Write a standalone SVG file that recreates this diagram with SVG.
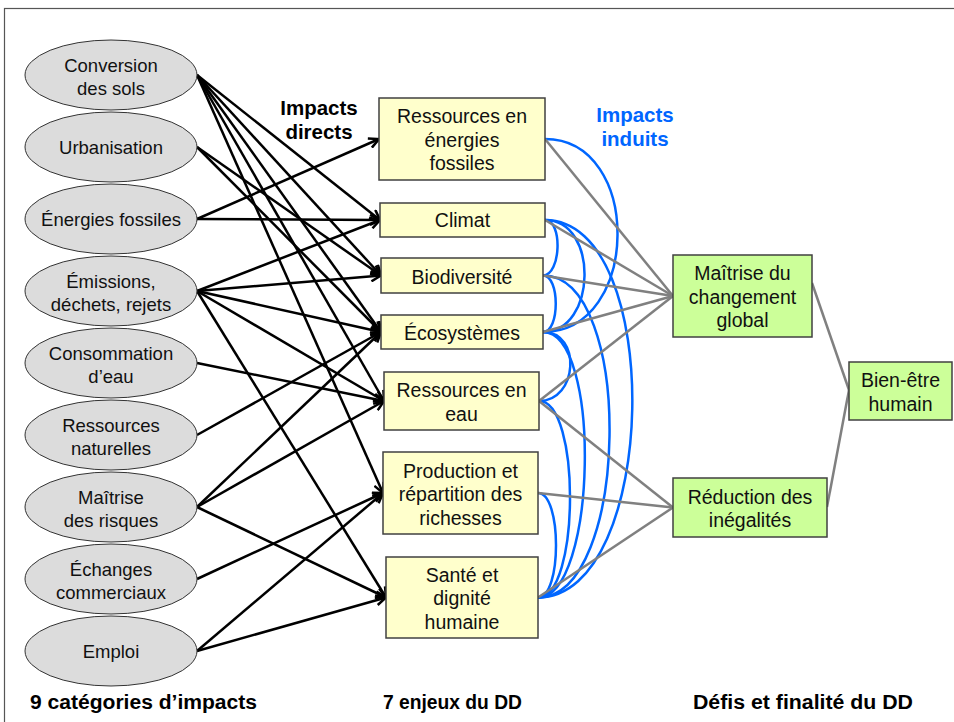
<svg xmlns="http://www.w3.org/2000/svg" width="954" height="722" viewBox="0 0 954 722">
<style>
.el{fill:#dcdcdc;stroke:#333;stroke-width:1}
.bx{fill:#ffffcc;stroke:#404040;stroke-width:1.5}
.gb{fill:#ccff99;stroke:#404040;stroke-width:1.5}
.t{font-family:"Liberation Sans",Arial,sans-serif;font-size:18.5px;fill:#111;text-anchor:middle}
.tb{font-family:"Liberation Sans",Arial,sans-serif;font-size:19.5px;fill:#111;text-anchor:middle}
.hd{font-family:"Liberation Sans",Arial,sans-serif;font-size:20.5px;font-weight:bold;text-anchor:middle}
.ft{font-family:"Liberation Sans",Arial,sans-serif;font-size:20px;font-weight:bold;fill:#000}
.ar{stroke:#000;stroke-width:2.5;fill:none;marker-end:url(#arr)}
.gr{stroke:#808080;stroke-width:2.5;fill:none}
.bl{stroke:#0066ff;stroke-width:2.5;fill:none}
</style>
<defs>
<marker id="arr" viewBox="0 0 12 12" refX="11" refY="6" markerWidth="12" markerHeight="12" orient="auto" markerUnits="userSpaceOnUse">
<path d="M1,1 L11,6 L1,11" fill="none" stroke="#000" stroke-width="2.5"/>
</marker>
</defs>
<rect x="4.5" y="8.5" width="980" height="730" fill="#fff" stroke="#555" stroke-width="1.2"/>

<g id="connectors">
<g id="impacts-directs">
<line class="ar" x1="197" y1="75" x2="380" y2="220"/>
<line class="ar" x1="197" y1="75" x2="381" y2="275.5"/>
<line class="ar" x1="197" y1="75" x2="381" y2="332"/>
<line class="ar" x1="197" y1="75" x2="384" y2="401"/>
<line class="ar" x1="197" y1="75" x2="383" y2="493"/>
<line class="ar" x1="197" y1="147" x2="381" y2="275.5"/>
<line class="ar" x1="197" y1="147" x2="381" y2="332"/>
<line class="ar" x1="197" y1="219" x2="379" y2="139"/>
<line class="ar" x1="197" y1="219" x2="380" y2="220"/>
<line class="ar" x1="197" y1="291" x2="380" y2="220"/>
<line class="ar" x1="197" y1="291" x2="381" y2="275.5"/>
<line class="ar" x1="197" y1="291" x2="381" y2="332"/>
<line class="ar" x1="197" y1="291" x2="384" y2="401"/>
<line class="ar" x1="197" y1="291" x2="386" y2="597.5"/>
<line class="ar" x1="197" y1="363" x2="384" y2="401"/>
<line class="ar" x1="197" y1="435" x2="381" y2="332"/>
<line class="ar" x1="197" y1="507" x2="381" y2="332"/>
<line class="ar" x1="197" y1="507" x2="384" y2="401"/>
<line class="ar" x1="197" y1="507" x2="386" y2="597.5"/>
<line class="ar" x1="197" y1="579" x2="383" y2="493"/>
<line class="ar" x1="197" y1="651" x2="383" y2="493"/>
<line class="ar" x1="197" y1="651" x2="386" y2="597.5"/>
</g>
<g id="impacts-induits">
<path class="bl" d="M545,139 C643,139 641,332 543,332"/>
<path class="bl" d="M545,220 C563,220 561,275.5 543,275.5"/>
<path class="bl" d="M545,220 C599,220 597,332 543,332"/>
<path class="bl" d="M545,220 C666,220 659,597.5 538,597.5"/>
<path class="bl" d="M543,275.5 C560,275.5 560,332 543,332"/>
<path class="bl" d="M543,275.5 C635,275.5 630,597.5 538,597.5"/>
<path class="bl" d="M543,332 C582,332 578,401 539,401"/>
<path class="bl" d="M543,332 C602,332 597,597.5 538,597.5"/>
<path class="bl" d="M539,401 C581,401 580,597.5 538,597.5"/>
<path class="bl" d="M538,493 C562,493 562,597.5 538,597.5"/>
</g>
<g id="finalite">
<line class="gr" x1="545" y1="139" x2="673" y2="296"/>
<line class="gr" x1="545" y1="220" x2="673" y2="296"/>
<line class="gr" x1="543" y1="275.5" x2="673" y2="296"/>
<line class="gr" x1="543" y1="332" x2="673" y2="296"/>
<line class="gr" x1="539" y1="401" x2="673" y2="296"/>
<line class="gr" x1="539" y1="401" x2="673" y2="507.5"/>
<line class="gr" x1="538" y1="493" x2="673" y2="507.5"/>
<line class="gr" x1="538" y1="597.5" x2="673" y2="507.5"/>
<line class="gr" x1="812" y1="283" x2="849" y2="390"/>
<line class="gr" x1="827" y1="507" x2="849" y2="390"/>
</g>
</g>

<g id="conversion-des-sols"><ellipse class="el" cx="111" cy="75" rx="86" ry="35"/><text class="t" x="111" y="72">Conversion</text><text class="t" x="111" y="94.5">des sols</text></g>
<g id="urbanisation"><ellipse class="el" cx="111" cy="147" rx="86" ry="35"/><text class="t" x="111" y="153.5">Urbanisation</text></g>
<g id="energies-fossiles"><ellipse class="el" cx="111" cy="219" rx="86" ry="35"/><text class="t" x="111" y="225.5">Énergies fossiles</text></g>
<g id="emissions"><ellipse class="el" cx="111" cy="291" rx="86" ry="35"/><text class="t" x="111" y="288">Émissions,</text><text class="t" x="111" y="310.5">déchets, rejets</text></g>
<g id="consommation-eau"><ellipse class="el" cx="111" cy="363" rx="86" ry="35"/><text class="t" x="111" y="360">Consommation</text><text class="t" x="111" y="382.5">d’eau</text></g>
<g id="ressources-naturelles"><ellipse class="el" cx="111" cy="435" rx="86" ry="35"/><text class="t" x="111" y="432">Ressources</text><text class="t" x="111" y="454.5">naturelles</text></g>
<g id="maitrise-risques"><ellipse class="el" cx="111" cy="507" rx="86" ry="35"/><text class="t" x="111" y="504">Maîtrise</text><text class="t" x="111" y="526.5">des risques</text></g>
<g id="echanges"><ellipse class="el" cx="111" cy="579" rx="86" ry="35"/><text class="t" x="111" y="576">Échanges</text><text class="t" x="111" y="598.5">commerciaux</text></g>
<g id="emploi"><ellipse class="el" cx="111" cy="651" rx="86" ry="35"/><text class="t" x="111" y="657.5">Emploi</text></g>

<g id="ressources-energies"><rect class="bx" x="379" y="98" width="166" height="82"/><text class="tb" x="462" y="123">Ressources en</text><text class="tb" x="462" y="146.5">énergies</text><text class="tb" x="462" y="170">fossiles</text></g>
<g id="climat"><rect class="bx" x="380" y="203" width="165" height="34"/><text class="tb" x="462.5" y="227">Climat</text></g>
<g id="biodiversite"><rect class="bx" x="381" y="258" width="162" height="35"/><text class="tb" x="462" y="283.5">Biodiversité</text></g>
<g id="ecosystemes"><rect class="bx" x="381" y="315" width="162" height="34"/><text class="tb" x="462" y="340">Écosystèmes</text></g>
<g id="ressources-eau"><rect class="bx" x="384" y="372" width="155" height="58"/><text class="tb" x="461.5" y="397">Ressources en</text><text class="tb" x="461.5" y="420.5">eau</text></g>
<g id="production"><rect class="bx" x="383" y="452" width="155" height="82"/><text class="tb" x="460.5" y="477.5">Production et</text><text class="tb" x="460.5" y="501">répartition des</text><text class="tb" x="460.5" y="524.5">richesses</text></g>
<g id="sante"><rect class="bx" x="386" y="557" width="152" height="81"/><text class="tb" x="462" y="581.5">Santé et</text><text class="tb" x="462" y="605">dignité</text><text class="tb" x="462" y="628.5">humaine</text></g>

<g id="maitrise-changement"><rect class="gb" x="673" y="255" width="139" height="82"/><text class="tb" x="742.5" y="280">Maîtrise du</text><text class="tb" x="742.5" y="303.5">changement</text><text class="tb" x="742.5" y="327">global</text></g>
<g id="reduction-inegalites"><rect class="gb" x="673" y="478" width="154" height="59"/><text class="tb" x="750" y="503.5">Réduction des</text><text class="tb" x="750" y="527">inégalités</text></g>
<g id="bien-etre"><rect class="gb" x="849" y="362" width="103" height="58"/><text class="tb" x="900.5" y="387">Bien-être</text><text class="tb" x="900.5" y="410.5">humain</text></g>

<g id="labels">
<text class="hd" x="319" y="115" fill="#000">Impacts</text>
<text class="hd" x="319" y="139" fill="#000">directs</text>
<text class="hd" x="635" y="122" fill="#0066ff">Impacts</text>
<text class="hd" x="635" y="146" fill="#0066ff">induits</text>
<text class="ft" x="30" y="709" textLength="227" lengthAdjust="spacingAndGlyphs">9 catégories d’impacts</text>
<text class="ft" x="383" y="709" textLength="139" lengthAdjust="spacingAndGlyphs">7 enjeux du DD</text>
<text class="ft" x="693" y="709" textLength="220" lengthAdjust="spacingAndGlyphs">Défis et finalité du DD</text>
</g>
</svg>
